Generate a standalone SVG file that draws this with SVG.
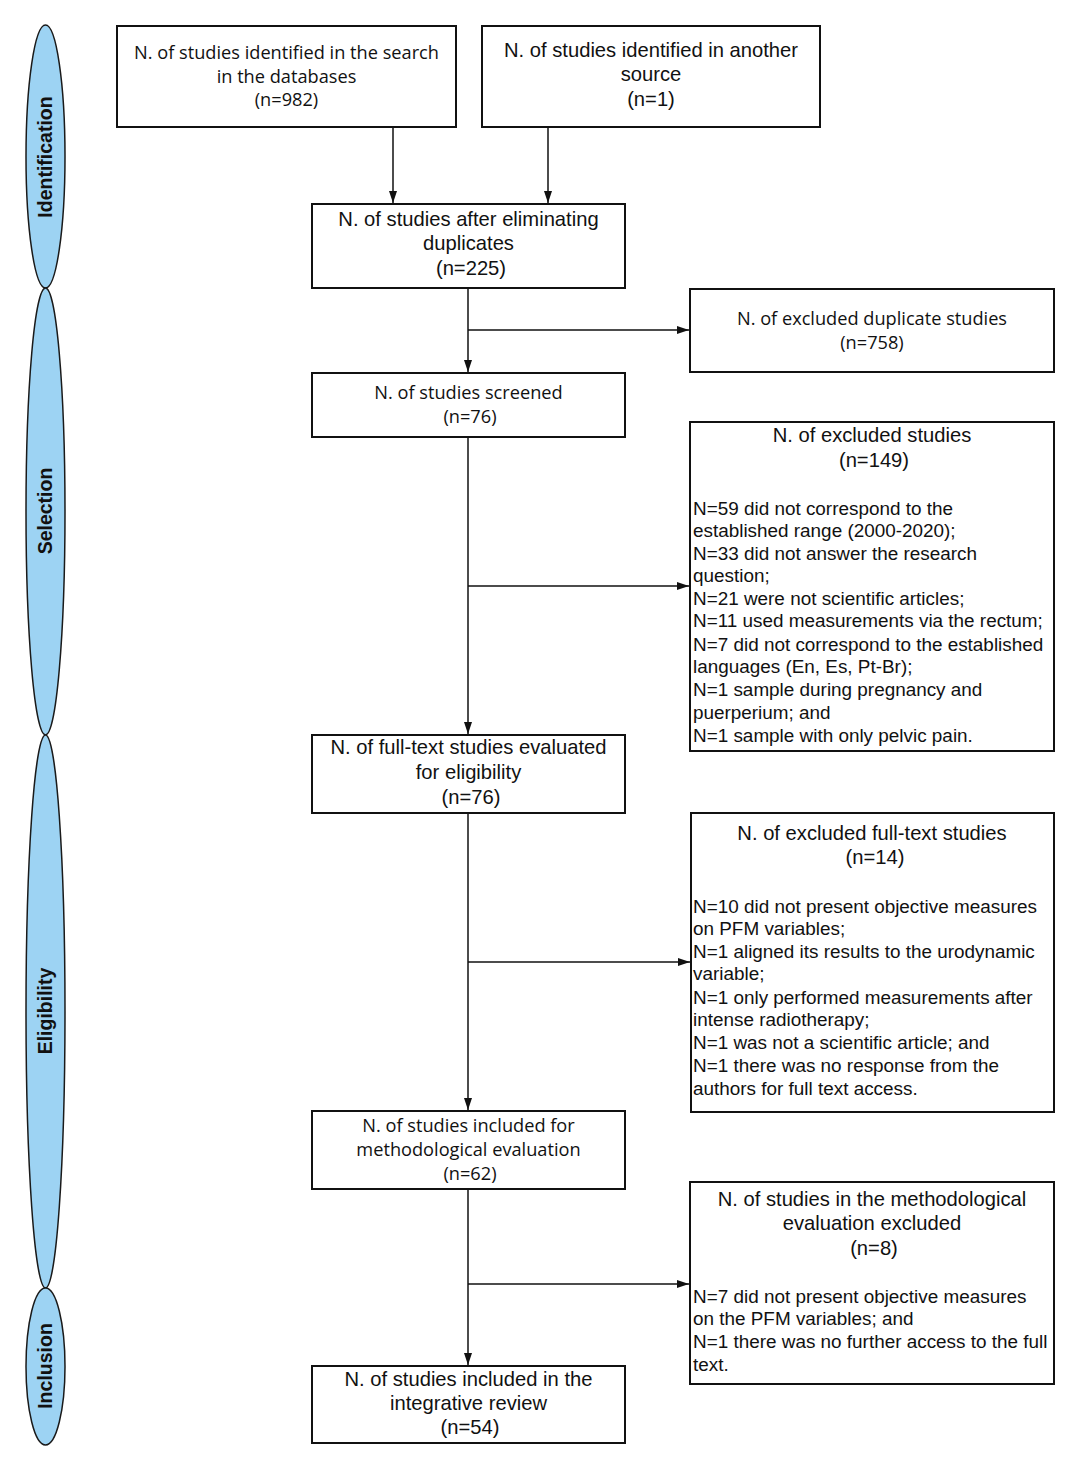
<svg xmlns="http://www.w3.org/2000/svg" width="1080" height="1471" viewBox="0 0 1080 1471">
<style>
.bg{fill:#ffffff}
.lane{fill:#9dd3f3;stroke:#1a1a1a;stroke-width:1.5}
.lt{font-family:"Liberation Sans",Arial,sans-serif;font-weight:bold;font-size:19.5px;fill:#111;text-anchor:middle}
.box{fill:#ffffff;stroke:#111;stroke-width:2}
.pt{font-family:"Open Sans","Liberation Sans",sans-serif;font-size:18.2px;fill:#111;text-anchor:middle}
.ar{font-family:"Liberation Sans",Arial,sans-serif;font-size:20.2px;fill:#111;text-anchor:middle}
.al{font-family:"Liberation Sans",Arial,sans-serif;font-size:18.9px;fill:#111;text-anchor:start}
.con{fill:none;stroke:#111;stroke-width:1.5}
</style>
<defs>
<marker id="arr" viewBox="0 0 12 10" refX="12" refY="5" markerWidth="12" markerHeight="10" markerUnits="userSpaceOnUse" orient="auto">
<path d="M0,1 L12,5 L0,9 z" fill="#111"/>
</marker>
</defs>
<rect class="bg" x="0" y="0" width="1080" height="1471"/>

<g id="lane-identification">
<ellipse class="lane" cx="45.5" cy="156.5" rx="19.5" ry="131.5"/>
<text class="lt" transform="translate(51.5,157) rotate(-90)">Identification</text>
</g>
<g id="lane-selection">
<ellipse class="lane" cx="45.5" cy="511.5" rx="19.5" ry="223.5"/>
<text class="lt" transform="translate(51.5,511) rotate(-90)">Selection</text>
</g>
<g id="lane-eligibility">
<ellipse class="lane" cx="45.5" cy="1011.5" rx="19.5" ry="276.5"/>
<text class="lt" transform="translate(51.5,1011) rotate(-90)">Eligibility</text>
</g>
<g id="lane-inclusion">
<ellipse class="lane" cx="45.5" cy="1366.5" rx="19.5" ry="78.5"/>
<text class="lt" transform="translate(51.5,1366) rotate(-90)">Inclusion</text>
</g>

<g id="connectors">
<line class="con" x1="393" y1="127" x2="393" y2="203" marker-end="url(#arr)"/>
<line class="con" x1="548" y1="127" x2="548" y2="203" marker-end="url(#arr)"/>
<line class="con" x1="468" y1="288" x2="468" y2="372" marker-end="url(#arr)"/>
<line class="con" x1="468" y1="330" x2="689" y2="330" marker-end="url(#arr)"/>
<line class="con" x1="468" y1="437" x2="468" y2="734" marker-end="url(#arr)"/>
<line class="con" x1="468" y1="586" x2="689" y2="586" marker-end="url(#arr)"/>
<line class="con" x1="468" y1="813" x2="468" y2="1110" marker-end="url(#arr)"/>
<line class="con" x1="468" y1="962" x2="690" y2="962" marker-end="url(#arr)"/>
<line class="con" x1="468" y1="1189" x2="468" y2="1365" marker-end="url(#arr)"/>
<line class="con" x1="468" y1="1284" x2="689" y2="1284" marker-end="url(#arr)"/>
</g>

<g id="node-databases">
<rect class="box" x="117" y="26" width="339" height="101"/>
<text class="pt" x="286.5" y="59">N. of studies identified in the search</text>
<text class="pt" x="286.5" y="83">in the databases</text>
<text class="pt" x="286.5" y="106">(n=982)</text>
</g>
<g id="node-other-source">
<rect class="box" x="482" y="26" width="338" height="101"/>
<text class="ar" x="651" y="57">N. of studies identified in another</text>
<text class="ar" x="651" y="81">source</text>
<text class="ar" x="651" y="106">(n=1)</text>
</g>
<g id="node-after-duplicates">
<rect class="box" x="312" y="204" width="313" height="84"/>
<text class="ar" x="468.5" y="226">N. of studies after eliminating</text>
<text class="ar" x="468.5" y="250">duplicates</text>
<text class="ar" x="471" y="275">(n=225)</text>
</g>
<g id="node-excluded-duplicates">
<rect class="box" x="690" y="289" width="364" height="83"/>
<text class="pt" x="872" y="325">N. of excluded duplicate studies</text>
<text class="pt" x="872" y="349">(n=758)</text>
</g>
<g id="node-screened">
<rect class="box" x="312" y="373" width="313" height="64"/>
<text class="pt" x="468.5" y="399">N. of studies screened</text>
<text class="pt" x="470" y="423">(n=76)</text>
</g>
<g id="node-excluded-studies">
<rect class="box" x="690" y="422" width="364" height="329"/>
<text class="ar" x="872" y="442">N. of excluded studies</text>
<text class="ar" x="874" y="467">(n=149)</text>
<text class="al" x="693" y="514.5">N=59 did not correspond to the</text>
<text class="al" x="693" y="536.5">established range (2000-2020);</text>
<text class="al" x="693" y="559.5">N=33 did not answer the research</text>
<text class="al" x="693" y="581.5">question;</text>
<text class="al" x="693" y="604.5">N=21 were not scientific articles;</text>
<text class="al" x="693" y="626.5">N=11 used measurements via the rectum;</text>
<text class="al" x="693" y="650.5">N=7 did not correspond to the established</text>
<text class="al" x="693" y="672.5">languages (En, Es, Pt-Br);</text>
<text class="al" x="693" y="695.5">N=1 sample during pregnancy and</text>
<text class="al" x="693" y="718.5">puerperium; and</text>
<text class="al" x="693" y="741.5">N=1 sample with only pelvic pain.</text>
</g>
<g id="node-full-text">
<rect class="box" x="312" y="735" width="313" height="78"/>
<text class="ar" x="468.5" y="754">N. of full-text studies evaluated</text>
<text class="ar" x="468.5" y="779">for eligibility</text>
<text class="ar" x="471" y="804">(n=76)</text>
</g>
<g id="node-excluded-full-text">
<rect class="box" x="691" y="813" width="363" height="299"/>
<text class="ar" x="872" y="840">N. of excluded full-text studies</text>
<text class="ar" x="875" y="864">(n=14)</text>
<text class="al" x="693" y="912.5">N=10 did not present objective measures</text>
<text class="al" x="693" y="934.5">on PFM variables;</text>
<text class="al" x="693" y="957.5">N=1 aligned its results to the urodynamic</text>
<text class="al" x="693" y="979.5">variable;</text>
<text class="al" x="693" y="1003.5">N=1 only performed measurements after</text>
<text class="al" x="693" y="1025.5">intense radiotherapy;</text>
<text class="al" x="693" y="1048.5">N=1 was not a scientific article; and</text>
<text class="al" x="693" y="1071.5">N=1 there was no response from the</text>
<text class="al" x="693" y="1094.5">authors for full text access.</text>
</g>
<g id="node-methodological">
<rect class="box" x="312" y="1111" width="313" height="78"/>
<text class="pt" x="468.5" y="1132">N. of studies included for</text>
<text class="pt" x="468.5" y="1156">methodological evaluation</text>
<text class="pt" x="470" y="1180">(n=62)</text>
</g>
<g id="node-methodological-excluded">
<rect class="box" x="690" y="1182" width="364" height="202"/>
<text class="ar" x="872" y="1206">N. of studies in the methodological</text>
<text class="ar" x="872" y="1230">evaluation excluded</text>
<text class="ar" x="874" y="1255">(n=8)</text>
<text class="al" x="693" y="1302.5">N=7 did not present objective measures</text>
<text class="al" x="693" y="1324.5">on the PFM variables; and</text>
<text class="al" x="693" y="1347.5">N=1 there was no further access to the full</text>
<text class="al" x="693" y="1370.5">text.</text>
</g>
<g id="node-integrative-review">
<rect class="box" x="312" y="1366" width="313" height="77"/>
<text class="ar" x="468.5" y="1386">N. of studies included in the</text>
<text class="ar" x="468.5" y="1410">integrative review</text>
<text class="ar" x="470" y="1434">(n=54)</text>
</g>
</svg>
